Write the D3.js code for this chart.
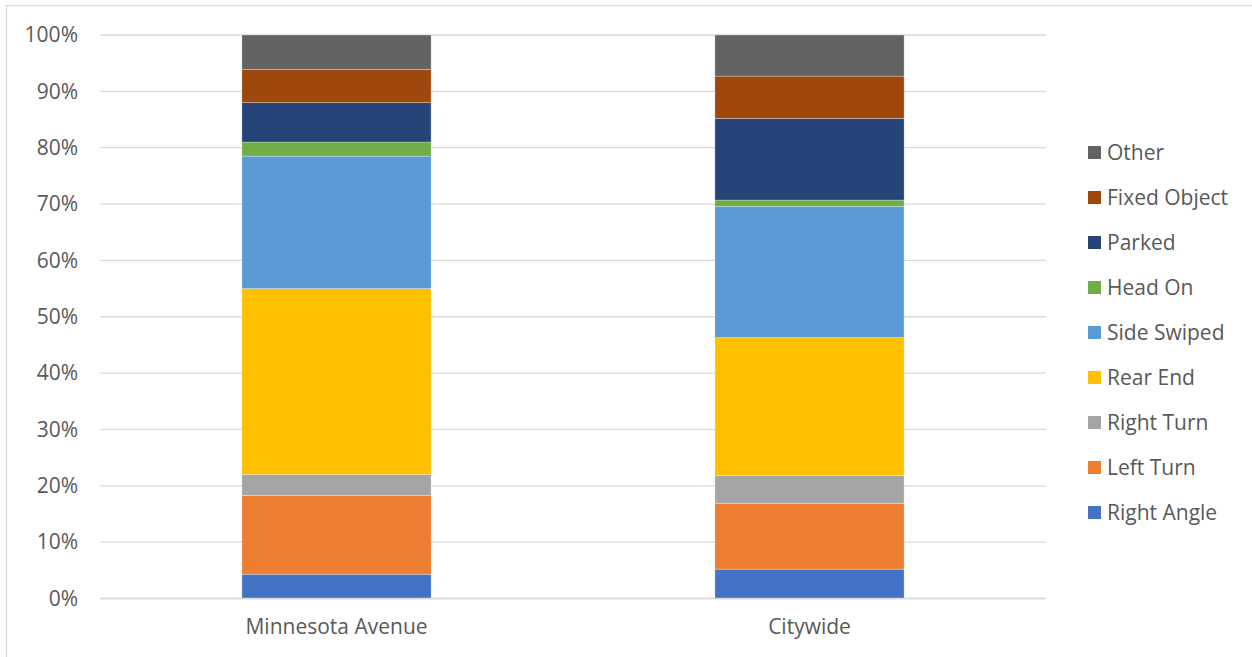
<!DOCTYPE html>
<html>
<head>
<meta charset="utf-8">
<script src="https://cdn.jsdelivr.net/npm/d3@7"></script>
<style>
  html, body { margin: 0; padding: 0; background: #fff; }
  svg { display: block; }
  text { font-family: "Open Sans", "Liberation Sans", sans-serif; fill: #595959; }
</style>
</head>
<body>
<svg id="chart" width="1252" height="657"></svg>
<script>
const categories = ["Minnesota Avenue", "Citywide"];
const seriesNames = ["Right Angle", "Left Turn", "Right Turn", "Rear End", "Side Swiped", "Head On", "Parked", "Fixed Object", "Other"];
const seriesColors = ["#4472c4", "#ed7d31", "#a5a5a5", "#ffc000", "#5b9bd5", "#70ad47", "#264478", "#9e480e", "#636363"];
const rightAngle  = [4.3, 5.2];
const leftTurn    = [14.0, 11.7];
const rightTurn   = [3.7, 4.9];
const rearEnd     = [33.0, 24.5];
const sideSwiped  = [23.5, 23.3];
const headOn      = [2.5, 1.1];
const parked      = [7.0, 14.5];
const fixedObject = [5.9, 7.5];
const other       = [6.1, 7.3];
const yTicks = [0, 10, 20, 30, 40, 50, 60, 70, 80, 90, 100];

const seriesValues = [rightAngle, leftTurn, rightTurn, rearEnd, sideSwiped, headOn, parked, fixedObject, other];

const table = categories.map((c, i) => {
  const row = { category: c };
  seriesNames.forEach((s, j) => { row[s] = seriesValues[j][i]; });
  return row;
});

const svg = d3.select("#chart");
const W = 1252, H = 657;
const plot = { left: 100, right: 1046, top: 35, bottom: 598.5 };
const FS = "21px";

// outer border
svg.append("rect").attr("x", 6.5).attr("y", 5.5).attr("width", W).attr("height", H)
  .attr("fill", "none").attr("stroke", "#d9d9d9").attr("stroke-width", 1.3);

const x = d3.scaleBand().domain(categories).range([plot.left, plot.right])
  .paddingInner(0.6).paddingOuter(0.3);
const y = d3.scaleLinear().domain([0, 100]).range([plot.bottom, plot.top]);

// gridlines
svg.append("g").selectAll("line").data(yTicks).join("line")
  .attr("x1", plot.left).attr("x2", plot.right)
  .attr("y1", d => y(d)).attr("y2", d => y(d))
  .attr("stroke", "#d9d9d9").attr("stroke-width", 1.3);

// y axis labels
const yAxis = d3.axisLeft(y).tickValues(yTicks).tickFormat(d => d + "%").tickSize(0).tickPadding(22);
const gy = svg.append("g").attr("transform", `translate(${plot.left},0)`).call(yAxis);
gy.select(".domain").remove();
gy.selectAll("text").style("font-size", FS).attr("fill", "#595959")
  .attr("font-family", "'Open Sans', sans-serif");

// stacked bars
const stack = d3.stack().keys(seriesNames);
const stacked = stack(table);
svg.append("g").selectAll("g").data(stacked).join("g")
  .attr("fill", (d, i) => seriesColors[i])
  .selectAll("rect").data(d => d).join("rect")
  .attr("x", d => x(d.data.category))
  .attr("width", x.bandwidth())
  .attr("y", d => y(d[1]))
  .attr("height", d => y(d[0]) - y(d[1]))
  .attr("stroke", "#ffffff").attr("stroke-opacity", 0.35).attr("stroke-width", 0.8);

// x axis baseline
svg.append("line").attr("x1", plot.left).attr("x2", plot.right)
  .attr("y1", y(0)).attr("y2", y(0)).attr("stroke", "#d9d9d9").attr("stroke-width", 1.3);

// x axis labels
const xAxis = d3.axisBottom(x).tickSize(0).tickPadding(21);
const gx = svg.append("g").attr("transform", `translate(0,${y(0)})`).call(xAxis);
gx.select(".domain").remove();
gx.selectAll("text").style("font-size", FS).attr("fill", "#595959")
  .attr("font-family", "'Open Sans', sans-serif");

// legend (reverse order, top = Other)
const legendOrder = seriesNames.map((s, i) => ({ name: s, color: seriesColors[i] })).reverse();
const legendY = d3.scalePoint().domain(legendOrder.map(d => d.name)).range([152.5, 512.5]);
const lg = svg.append("g").selectAll("g").data(legendOrder).join("g")
  .attr("transform", d => `translate(1088,${legendY(d.name)})`);
lg.append("rect").attr("x", 0).attr("y", -6.5).attr("width", 13).attr("height", 13)
  .attr("fill", d => d.color);
lg.append("text").attr("x", 19).attr("y", 0).attr("dy", "0.35em")
  .style("font-size", FS).text(d => d.name);
</script>
</body>
</html>
